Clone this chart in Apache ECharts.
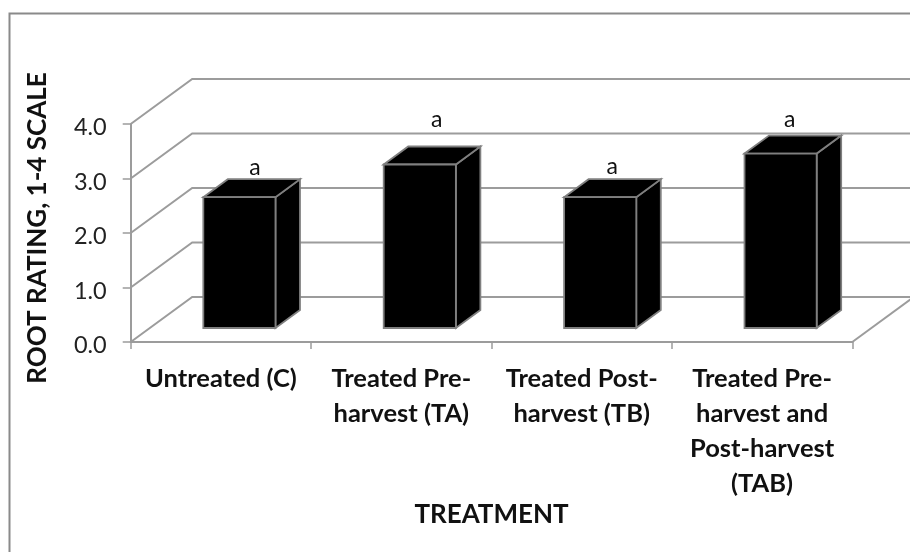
<!DOCTYPE html>
<html><head><meta charset="utf-8">
<style>html,body{margin:0;padding:0;background:#fff}#c{width:910px;height:552px}</style>
<script src="https://cdn.jsdelivr.net/npm/echarts@6/dist/echarts.min.js"></script>
</head><body><div id="c"></div>
<script>
const categories = ['Untreated (C)', 'Treated Pre-\nharvest (TA)', 'Treated Post-\nharvest (TB)', 'Treated Pre-\nharvest and\nPost-harvest\n(TAB)'];
const rootRating = [2.4, 3.0, 2.4, 3.2];
const significance = ['a', 'a', 'a', 'a'];
const gridValues = [0, 1, 2, 3, 4];
const yAxisTitle = 'ROOT RATING, 1-4 SCALE';
const xAxisTitle = 'TREATMENT';

const WALL = [61.5, -45], FRONT = [18.5, -14], BACK = [43, -32];
const NUDGE = [[15.5, -30], [17, -45], [12, -31], [9, -34]];
const LINE = '#9c9c9c', EDGE = '#7f7f7f';
const FONT = 'Lato';

const chart = echarts.init(document.getElementById('c'), null, {renderer: 'canvas'});
chart.setOption({
  backgroundColor: '#fff',
  animation: false,
  graphic: [{type: 'polyline', z: 0, shape: {points: [[9.5, 552], [9.5, 13.5], [910, 13.5]]},
    style: {fill: null, stroke: '#8a8a8a', lineWidth: 2}}],
  grid: {left: 130.7, right: 57.7, top: 124, bottom: 210, containLabel: false},
  xAxis: {
    type: 'category', data: categories, boundaryGap: true,
    axisLine: {show: true, lineStyle: {color: LINE, width: 2}},
    axisTick: {show: true, length: 7, lineStyle: {color: LINE, width: 1.5}},
    axisLabel: {interval: 0, margin: 19, fontFamily: FONT, fontWeight: 'bold', fontSize: 25.5, lineHeight: 35, color: '#111', align: 'center', verticalAlign: 'top'},
    splitLine: {show: false},
    name: xAxisTitle, nameLocation: 'middle', nameGap: 159,
    nameTextStyle: {fontFamily: FONT, fontWeight: 'bold', fontSize: 26, color: '#111'}
  },
  yAxis: {
    type: 'value', min: 0, max: 4, interval: 1,
    axisLine: {show: true, lineStyle: {color: LINE, width: 2}},
    axisTick: {show: true, length: 8, lineStyle: {color: LINE, width: 1.5}},
    splitLine: {show: false},
    axisLabel: {margin: 24, formatter: v => v.toFixed(1), fontFamily: FONT, fontSize: 23.5, color: '#222', verticalAlign: 'top', lineHeight: 7},
    name: yAxisTitle, nameLocation: 'middle', nameGap: 80, nameRotate: 90,
    nameTextStyle: {fontFamily: FONT, fontWeight: 'bold', fontSize: 26, color: '#111', padding: [0, 0, 0, 10]}
  },
  series: [
    {
      type: 'custom', z: 1, silent: true, clip: false,
      data: gridValues.map(v => [0, v]),
      renderItem(params, api) {
        const y = api.coord([0, api.value(1)])[1];
        const cs = params.coordSys;
        const lx = cs.x, rx = cs.x + cs.width;
        const pts = [[lx, y], [lx + WALL[0], y + WALL[1]], [rx + WALL[0], y + WALL[1]]];
        const kids = [{type: 'polyline', shape: {points: pts}, style: {fill: null, stroke: LINE, lineWidth: 2}}];
        if (api.value(1) === 0) {
          kids.push({type: 'line', shape: {x1: rx, y1: y, x2: rx + WALL[0], y2: y + WALL[1]}, style: {stroke: LINE, lineWidth: 2}});
        }
        return {type: 'group', children: kids};
      }
    },
    {
      type: 'custom', z: 3, silent: true, clip: false,
      data: rootRating.map((v, i) => [i, v]),
      renderItem(params, api) {
        const i = api.value(0), v = api.value(1);
        const top = api.coord([i, v]), base = api.coord([i, 0]);
        const w = api.size([1, 0])[0] * 0.4;
        const x0 = top[0] - w / 2 + FRONT[0], x1 = x0 + w;
        const yT = top[1] + FRONT[1], yB = base[1] + FRONT[1];
        const ox = BACK[0] - FRONT[0], oy = BACK[1] - FRONT[1];
        const st = {fill: '#000', stroke: EDGE, lineWidth: 1.8, lineJoin: 'miter'};
        return {type: 'group', children: [
          {type: 'polygon', shape: {points: [[x1, yT], [x1 + ox, yT + oy], [x1 + ox, yB + oy], [x1, yB]]}, style: st},
          {type: 'polygon', shape: {points: [[x0, yT], [x0 + ox, yT + oy], [x1 + ox, yT + oy], [x1, yT]]}, style: st},
          {type: 'rect', shape: {x: x0, y: yT, width: w, height: yB - yT}, style: st},
          {type: 'text', style: {x: top[0] + FRONT[0] + NUDGE[i][0], y: yT + NUDGE[i][1], text: significance[i],
            textAlign: 'center', textVerticalAlign: 'middle', fontFamily: FONT, fontSize: 23, fill: '#111'}}
        ]};
      }
    }
  ]
});
</script></body></html>
